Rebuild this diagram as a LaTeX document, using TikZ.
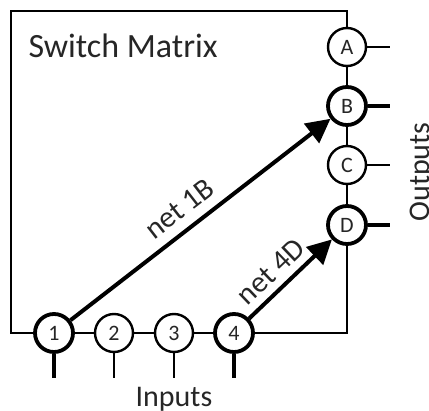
\documentclass[tikz,border=0pt]{standalone}
\usepackage{fontspec}
\setmainfont{Carlito}
\usetikzlibrary{arrows.meta}

\begin{document}
\begin{tikzpicture}[
    x=1pt, y=-1pt,
    % Ports on the matrix border
    port/.style={circle, draw, fill=white, line width=2.4pt, minimum size=38pt, inner sep=0pt, text=black!85, font=\fontsize{22}{22}\selectfont},
    hotport/.style={port, line width=3.8pt},
    % Wires and nets
    wire/.style={line width=2.2pt},
    hotwire/.style={line width=4pt},
    net/.style={line width=4pt, -{Triangle[length=24pt,width=24pt]}},
    % Text
    title/.style={text=black!85, font=\fontsize{34}{34}\selectfont},
    lbl/.style={text=black!85, font=\fontsize{30}{30}\selectfont},
    netlbl/.style={text=black!85, font=\fontsize{30}{30}\selectfont}
]
\useasboundingbox (0,0) rectangle (429,411);

% Matrix body
\draw[wire] (11,11) rectangle (347,333);
\node[title, anchor=base west] (matrix) at (25,58) {Switch Matrix};

% Inputs along the bottom edge
\foreach \n/\x/\s/\w in {1/54/hotport/hotwire, 2/114/port/wire, 3/174/port/wire, 4/234/hotport/hotwire} {
  \node[\s] (in\n) at (\x,333) {\n};
  \coordinate (pin\n) at (\x,378);
  \draw[\w] (in\n) -- (pin\n);
}
\node[lbl, anchor=base] (inputs) at (174,407) {Inputs};

% Outputs along the right edge
\foreach \n/\y/\s/\w in {A/47/port/wire, B/106/hotport/hotwire, C/165/port/wire, D/225/hotport/hotwire} {
  \node[\s] (out\n) at (347,\y) {\n};
  \coordinate (pout\n) at (390,\y);
  \draw[\w] (out\n) -- (pout\n);
}
\node[lbl, rotate=90, anchor=base] (outputs) at (429,172) {Outputs};

% Routed nets
\draw[net] (in1) -- (outB) node[netlbl, pos=0.47, above=6pt, sloped] {net 1B};
\draw[net] (in4) -- (outD) node[netlbl, pos=0.42, above=4pt, sloped] {net 4D};
\end{tikzpicture}
\end{document}
